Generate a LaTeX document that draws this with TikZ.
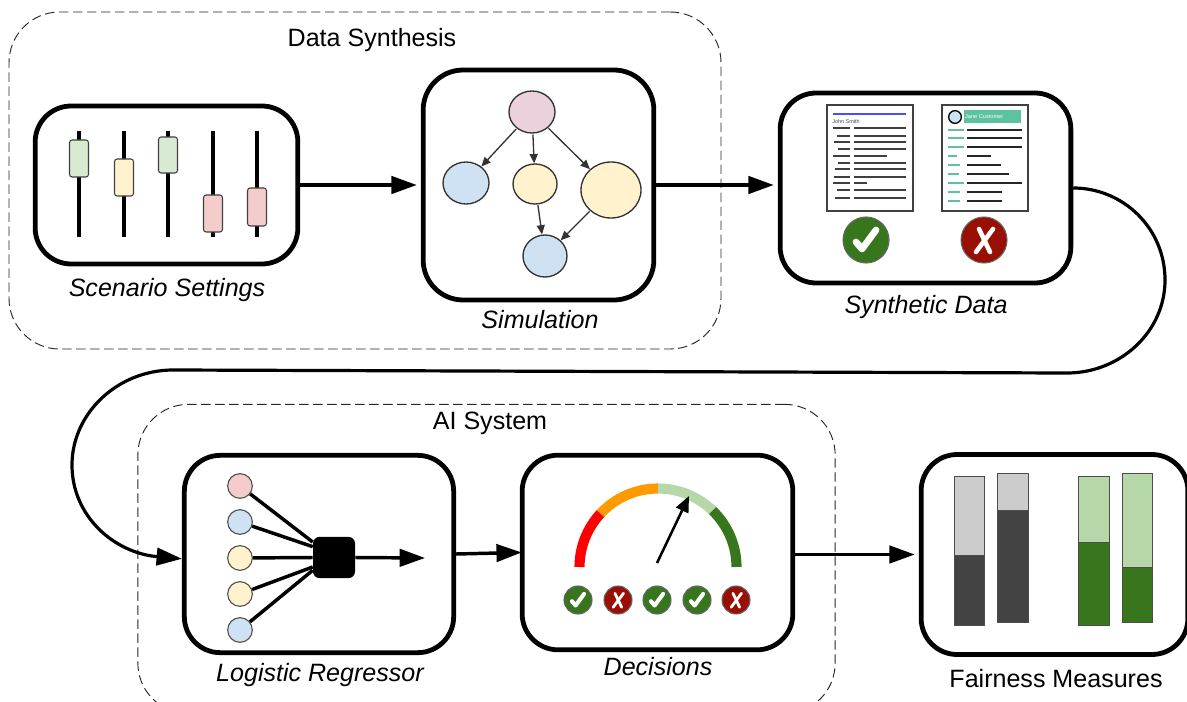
\documentclass[tikz,border=0pt]{standalone}
\usepackage{fontspec}
\setmainfont{Liberation Sans}
\usetikzlibrary{shapes.geometric,arrows.meta}
\definecolor{cgreen}{HTML}{D9EAD3}
\definecolor{cyellow}{HTML}{FFF2CC}
\definecolor{cpink}{HTML}{F4CCCC}
\definecolor{cblue}{HTML}{CFE2F3}
\definecolor{cmauve}{HTML}{EAD1DC}
\definecolor{dgreen}{HTML}{38761D}
\definecolor{lgreen}{HTML}{B6D7A8}
\definecolor{dred}{HTML}{990F04}
\definecolor{cteal}{HTML}{5CC29F}
\definecolor{dbar}{HTML}{434343}
\definecolor{lbar}{HTML}{CCCCCC}
\definecolor{gorange}{HTML}{FF9900}
\tikzset{
 stagebox/.style={draw=black,line width=3.6pt,rectangle,rounded corners=#1,fill=white,inner sep=0pt},
 groupbox/.style={draw=black!85,line width=.7pt,dash pattern=on 7pt off 3.5pt,rectangle,rounded corners=38pt,inner sep=0pt},
 flow/.style={line width=2.6pt,-{Triangle[length=19pt,width=13pt]}},
 loopflow/.style={line width=2.4pt,-{Triangle[length=19pt,width=13pt]}},
 sim/.style={ellipse,draw=black!80,line width=1pt,inner sep=0pt},
 simarrow/.style={draw=black!80,line width=1pt,-{Triangle[length=7pt,width=6pt]},shorten <=.5pt},
 dot/.style={circle,draw=black!70,line width=.8pt,minimum size=18.5pt,inner sep=0pt},
 spoke/.style={line width=2.6pt},
 rod/.style={line width=3.2pt},
 thumb/.style={draw=black!75,line width=.8pt,rounded corners=2pt},
 caption/.style={font=\fontsize{18.8pt}{20pt}\selectfont\itshape,inner sep=0pt},
 title/.style={font=\fontsize{18.8pt}{20pt}\selectfont,inner sep=0pt},
 docbox/.style={draw=black!75,line width=1pt,fill=white,rectangle,inner sep=0pt},
 dk/.style={draw=black!75,line width=1.2pt},
 tl/.style={draw=cteal,line width=1.1pt},
 gauge/.style={line width=7.6pt},
 bar/.style={draw=black!70,line width=.7pt},
 needle/.style={line width=1.9pt,-{Triangle[length=12pt,width=10pt]}},
}
\newcommand{\okicon}[4]{\node[circle,fill=dgreen,draw=black!60,line width=.8pt,minimum size=#3*1.5pt,inner sep=0pt] (#4) at (#1,#2) {};
 \begin{scope}[shift={(#1,#2)},scale=#3/23]\draw[white,line width=#3*0.22pt,line cap=round,line join=round] (-10,2)--(-4,9)--(10,-10);\end{scope}}
\newcommand{\noicon}[4]{\node[circle,fill=dred,draw=black!60,line width=.8pt,minimum size=#3*1.5pt,inner sep=0pt] (#4) at (#1,#2) {};
 \begin{scope}[shift={(#1,#2)},scale=#3/23]\draw[white,line width=#3*0.15pt,line cap=round] (-8,12)--(9,-11) (-5,-11)--(6,12);\end{scope}}
\begin{document}
\begin{tikzpicture}[x=.75pt,y=-.75pt]
\useasboundingbox (0,0) rectangle (1187,702);
% groups
\node[groupbox,minimum width=534pt,minimum height=252.75pt] (gdata) at (365,180.5) {};
\begin{scope}
\clip (0,0) rectangle (1187,702);
\node[groupbox,minimum width=523pt,minimum height=232pt] (gai) at (486.5,559) {};
\end{scope}
\node[title] (tdata) at (372,40) {Data Synthesis};
\node[title] (tai) at (490,423) {AI System};
% stage boxes
\node[stagebox=27pt,minimum width=197pt,minimum height=118.5pt] (scen) at (166.5,185) {};
\node[stagebox=30pt,minimum width=173pt,minimum height=172.5pt] (simb) at (538.5,185) {};
\node[stagebox=27pt,minimum width=218pt,minimum height=142.5pt] (synth) at (925.5,188) {};
\node[stagebox=27pt,minimum width=202pt,minimum height=148pt] (logi) at (319,554) {};
\node[stagebox=27pt,minimum width=203pt,minimum height=146pt] (deci) at (657.5,552.5) {};
\node[stagebox=27pt,minimum width=200pt,minimum height=150pt] (fair) at (1054.5,554.5) {};
% captions
\node[caption] (c1) at (167,290) {Scenario Settings};
\node[caption] (c2) at (540,320) {Simulation};
\node[caption] (c3) at (926,307) {Synthetic Data};
\node[caption] (c4) at (320,675) {Logistic Regressor};
\node[caption] (c5) at (658,667) {Decisions};
\node[title] (c6) at (1056,679) {Fairness Measures};
% flow connectors
\draw[flow,shorten >=3pt] (scen.east)--(simb.west);
\draw[flow,shorten >=3pt] (simb.east)--(simb.east -| synth.west);
\draw[flow,shorten >=-1.5pt] (logi.east)--(deci.west);
\draw[flow,shorten >=3pt] (fair.west -| deci.east)--(fair.west);
\draw[loopflow] (synth.east) .. controls (1123,188) and (1165,228) .. (1165,280) .. controls (1165,332) and (1120,373) .. (1067,373) -- (173,370) .. controls (118,370) and (72,413) .. (72,465) .. controls (72,517) and (115,553) .. (logi.182);
% sliders
\foreach \x/\a/\b/\c in {79/140/177/cgreen,124/159/196/cyellow,168/137/173/cgreen,213/195/232/cpink,257/188/226/cpink}{
 \draw[rod] (\x,131)--(\x,237);
 \draw[thumb,fill=\c] (\x-9.5,\a) rectangle (\x+9.5,\b);
}
% simulation graph
\node[sim,fill=cmauve,minimum width=34.5pt,minimum height=31.5pt] (n1) at (532,112) {};
\node[sim,fill=cblue,minimum width=34.5pt,minimum height=31.5pt] (n2) at (466,183) {};
\node[sim,fill=cyellow,minimum width=33pt,minimum height=30pt] (n3) at (535,184) {};
\node[sim,fill=cyellow,minimum width=45pt,minimum height=42pt] (n4) at (611,190) {};
\node[sim,fill=cblue,minimum width=33pt,minimum height=31.5pt] (n5) at (545,256) {};
\draw[simarrow] (n1)--(n2);
\draw[simarrow] (n1)--(n3);
\draw[simarrow] (n1)--(n4);
\draw[simarrow] (n3)--(n5);
\draw[simarrow] (n4)--(n5);
% documents
\node[docbox,minimum width=64.5pt,minimum height=79.5pt] (d1) at (870,158) {};
\node[docbox,minimum width=64.5pt,minimum height=79.5pt] (d2) at (985,158) {};
\draw[draw=blue!70,line width=1.2pt] (833,114)--(906,114);
\node[anchor=west,inner sep=0pt,font=\fontsize{4.1pt}{5pt}\selectfont,text=black!70] (jn) at (832,122) {John Smith};
\foreach \y/\l/\r in {128/833/906,136/837/906,142/834/906,149/838/906,156/833/887,163/838/906,169/835/906,177/834/906,183/833/867,190/837/906,198/835/906}{
 \draw[dk] (\l,\y)--(850,\y);
 \draw[dk] (854,\y)--(\r,\y);
}
\node[circle,draw=black,line width=1pt,fill=cblue,minimum size=9.5pt,inner sep=0pt] (av) at (955,117) {};
\node[fill=cteal,minimum width=43pt,minimum height=10pt,inner sep=0pt] (hd) at (992.5,116.5) {};
\node[anchor=west,inner sep=0pt,text=white,font=\fontsize{4.2pt}{5pt}\selectfont] (jc) at (hd.west) {\hspace{1pt}Jane Customer};
\foreach \y/\l/\r in {130/964/1022,138/964/1022,147/964/1022,156/957/991,165/960/1001,174/959/1009,183/964/1022,192/960/1002,201/960/1002}{
 \draw[tl] (947.5,\y)--(\l,\y);
 \draw[draw=black!85,line width=1.3pt] (966.5,\y)--(\r,\y);
}
\okicon{866}{240}{23}{okbig}
\noicon{984}{240}{23}{nobig}
% logistic regressor
\node[rectangle,fill=black,rounded corners=5pt,minimum width=31.5pt,minimum height=31pt,inner sep=0pt] (sq) at (334,557.5) {};
\node[dot,fill=cpink] (i1) at (240,486) {};
\node[dot,fill=cblue] (i2) at (240,522) {};
\node[dot,fill=cyellow] (i3) at (240,558) {};
\node[dot,fill=cyellow] (i4) at (240,594) {};
\node[dot,fill=cblue] (i5) at (240,630) {};
\draw[spoke] (i1)--(sq.144);
\draw[spoke] (i2)--(sq.153);
\draw[spoke] (i3)--(sq.west);
\draw[spoke] (i4)--(sq.204);
\draw[spoke] (i5)--(sq.211);
\coordinate (out) at (425,558);
\draw[flow] (sq.east)--(out);
% gauge
\def\gx{658}\def\gy{567}\def\gr{78.5}
\draw[gauge,red] ({\gx+\gr*cos(180)},\gy) arc[start angle=180,end angle=223,radius=\gr];
\draw[gauge,gorange] ({\gx+\gr*cos(137)},{\gy-\gr*sin(137)}) arc[start angle=223,end angle=270,radius=\gr];
\draw[gauge,lgreen] ({\gx},{\gy-\gr}) arc[start angle=270,end angle=314,radius=\gr];
\draw[gauge,dgreen] ({\gx+\gr*cos(46)},{\gy-\gr*sin(46)}) arc[start angle=314,end angle=360,radius=\gr];
\coordinate (nb) at (657,563);
\coordinate (nt) at (689,496);
\draw[needle] (nb)--(nt);
\okicon{578}{600}{14}{r1}
\noicon{618}{600}{14}{r2}
\okicon{657}{600}{14}{r3}
\okicon{697}{600}{14}{r4}
\noicon{736}{600}{14}{r5}
% bars
\foreach \l/\r/\t/\m/\b/\u/\d in {954/984/476/555/625/lbar/dbar,997/1028/473/510/622/lbar/dbar,1078/1109/476/542/625/lgreen/dgreen,1122/1152/473/567/622/lgreen/dgreen}{
 \draw[bar,fill=\u] (\l,\t) rectangle (\r,\m);
 \draw[bar,fill=\d] (\l,\m) rectangle (\r,\b);
}
\end{tikzpicture}
\end{document}
